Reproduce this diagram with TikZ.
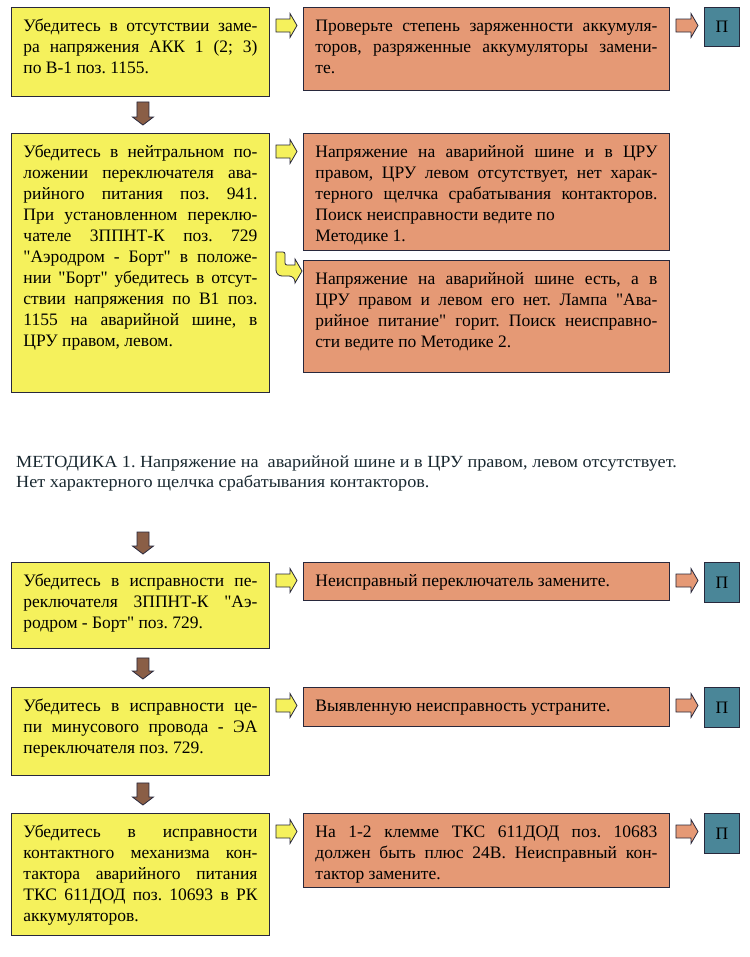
\documentclass[tikz,border=0pt]{standalone}
\usepackage{fontspec}
\setmainfont{Liberation Serif}[Ligatures=TeXOff]
\newfontfamily\notefont{Liberation Serif}[Ligatures=TeXOff, FakeStretch=1.07]
\usetikzlibrary{calc}
\frenchspacing

\definecolor{yfill}{RGB}{245,241,92}
\definecolor{ofill}{RGB}{229,153,117}
\definecolor{pfill}{RGB}{74,134,152}
\definecolor{dfill}{RGB}{138,94,70}
\definecolor{linec}{RGB}{40,40,60}
\definecolor{notec}{RGB}{25,40,48}

% text of a box: width, height, text
\newcommand{\cell}[3]{\begin{minipage}[t][#2][t]{#1}\parindent=0pt\tolerance=10000\hbadness=10000\frenchspacing\strut#3\end{minipage}}
\newcommand{\lb}{\linebreak}

% small block arrow between two boxes of one row
\newcommand{\hflow}[3][yarrow]{%
  \draw[#1] let \p1=($(#2.north east)+(6,-18.5)$), \p2=($(#3.north west)+(-6,-18.5)$) in
    (\x1,\y1+6.5bp) -- (\x2-7bp,\y1+6.5bp) -- (\x2-7bp,\y1+12bp) -- (\x2,\y1)
    -- (\x2-7bp,\y1-12bp) -- (\x2-7bp,\y1-6.5bp) -- (\x1,\y1-6.5bp) -- cycle;}
% brown arrow down to the next box
\newcommand{\vflow}[2]{%
  \draw[darrow] let \p1=(#1), \p2=($(#2.north)+(2.5,8)$) in
    (\x1-6bp,\y1) -- (\x1+6bp,\y1) -- (\x1+6bp,\y2+8bp) -- (\x1+10.5bp,\y2+8bp)
    -- (\x1,\y2) -- (\x1-10.5bp,\y2+8bp) -- (\x1-6bp,\y2+8bp) -- cycle;}

\begin{document}
\begin{tikzpicture}[x=1bp, y=1bp,
    base/.style={draw=linec, line width=0.9bp, anchor=north west, inner xsep=12bp,
      inner ysep=9.5bp, font=\fontsize{17.5bp}{21bp}\selectfont},
    ybox/.style={base, fill=yfill},
    obox/.style={base, fill=ofill},
    pbox/.style={draw=linec, line width=0.9bp, fill=pfill, anchor=north west,
      minimum width=35bp, minimum height=39bp, inner sep=0pt,
      font=\fontsize{17.5bp}{21bp}\selectfont},
    yarrow/.style={draw=linec, line width=0.8bp, fill=yfill},
    parrow/.style={draw=linec, line width=0.8bp, fill=ofill},
    darrow/.style={draw=linec, line width=0.8bp, fill=dfill}]
\useasboundingbox (0,0) rectangle (750,-957);

% first part
\node[ybox] (y1) at (11,-7) {\cell{234bp}{70bp}{Убедитесь в отсутствии заме-\lb ра напряжения АКК 1 (2; 3)\lb по В-1 поз. 1155.}};
\node[obox] (o1) at (303,-7) {\cell{342bp}{64bp}{Проверьте степень заряженности аккумуля-\lb торов, разряженные аккумуляторы замени-\lb те.}};
\node[pbox] (p1) at (704,-7) {П};

\node[ybox] (y2) at (11,-133) {\cell{234bp}{240bp}{Убедитесь в нейтральном по-\lb ложении переключателя ава-\lb рийного питания поз. 941.\lb При установленном переклю-\lb чателе 3ППНТ-К поз. 729\lb "Аэродром - Борт" в положе-\lb нии "Борт" убедитесь в отсут-\lb ствии напряжения по В1 поз.\lb 1155 на аварийной шине, в\lb ЦРУ правом, левом.}};
\node[obox] (o2) at (303,-133) {\cell{342bp}{98bp}{Напряжение на аварийной шине и в ЦРУ\lb правом, ЦРУ левом отсутствует, нет харак-\lb терного щелчка срабатывания контакторов.\lb Поиск неисправности ведите по\\Методике 1.}};
\node[obox] (o3) at (303,-260) {\cell{342bp}{93bp}{Напряжение на аварийной шине есть, а в\lb ЦРУ правом и левом его нет. Лампа "Ава-\lb рийное питание" горит. Поиск неисправно-\lb сти ведите по Методике 2.}};

\hflow{y1}{o1}
\hflow[parrow]{o1}{p1}
\vflow{$(y1.south)+(2.5,-5)$}{y2}
\hflow{y2}{o2}
% turning arrow down to the second answer
\draw[yarrow] ($(o3.north west)+(-27,8)$) [rounded corners=6bp] -- ++(0,-24) -- ++(19,0)
  [sharp corners] -- ++(0,-7) -- ++(7,12) -- ++(-7,12) -- ++(0,-6)
  [rounded corners=2bp] -- ++(-10,0) -- ++(0,13) [sharp corners] -- cycle;

% method 1
\node[anchor=north west, inner sep=0pt, align=left, text=notec,
  font=\notefont\fontsize{17bp}{20bp}\selectfont] (m1) at (16,-456)
  {МЕТОДИКА 1. Напряжение на\ \ аварийной шине и в ЦРУ правом, левом отсутствует.\\
   Нет характерного щелчка срабатывания контакторов.};
\coordinate (m1s) at (143,-532);

\node[ybox] (y4) at (11,-562) {\cell{234bp}{67bp}{Убедитесь в исправности пе-\lb реключателя 3ППНТ-К "Аэ-\lb родром - Борт" поз. 729.}};
\node[obox] (o4) at (303,-562) {\cell{342bp}{19bp}{Неисправный переключатель замените.}};
\node[pbox, minimum height=40bp] (p4) at (704,-562) {П};

\node[ybox] (y5) at (11,-687) {\cell{234bp}{69bp}{Убедитесь в исправности це-\lb пи минусового провода - ЭА\lb переключателя поз. 729.}};
\node[obox] (o5) at (303,-687) {\cell{342bp}{20bp}{Выявленную неисправность устраните.}};
\node[pbox, minimum height=40bp] (p5) at (704,-687) {П};

\node[ybox] (y6) at (11,-813) {\cell{234bp}{103bp}{Убедитесь в исправности\lb контактного механизма кон-\lb тактора аварийного питания\lb ТКС 611ДОД поз. 10693 в РК\lb аккумуляторов.}};
\node[obox] (o6) at (303,-813) {\cell{342bp}{55bp}{На 1-2 клемме ТКС 611ДОД поз. 10683\lb должен быть плюс 24В. Неисправный кон-\lb тактор замените.}};
\node[pbox, minimum height=40bp] (p6) at (704,-813) {П};

\vflow{m1s}{y4}
\hflow{y4}{o4}
\hflow[parrow]{o4}{p4}
\vflow{$(y4.south)+(2.5,-9)$}{y5}
\hflow{y5}{o5}
\hflow[parrow]{o5}{p5}
\vflow{$(y5.south)+(2.5,-7)$}{y6}
\hflow{y6}{o6}
\hflow[parrow]{o6}{p6}
\end{tikzpicture}
\end{document}
